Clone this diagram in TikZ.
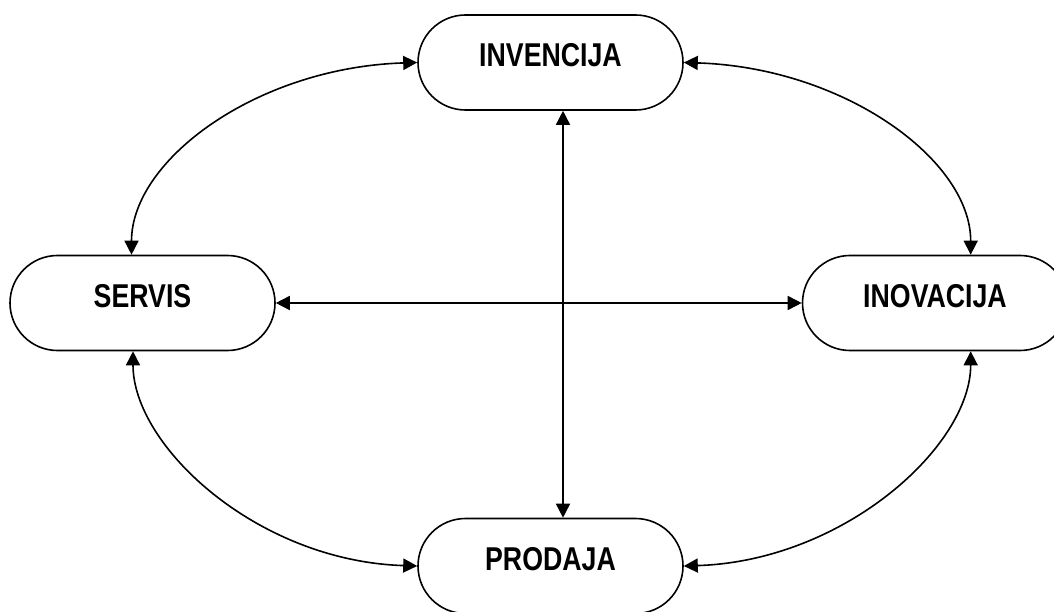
\documentclass[tikz,border=0pt]{standalone}
\usepackage{fontspec}
\setmainfont{Liberation Sans}[FakeStretch=0.81]
\usetikzlibrary{shapes.misc,arrows.meta}
\begin{document}
\begin{tikzpicture}[x=1pt,y=-1pt,
  box/.style={rounded rectangle, draw, line width=1.6pt, fill=white,
    minimum width=265pt, minimum height=95pt, inner sep=0pt,
    font=\fontsize{33}{37}\selectfont\bfseries, text height=23.5pt, text depth=14.5pt},
  link/.style={line width=1.6pt, {Triangle[length=14pt,width=14pt]}-{Triangle[length=14pt,width=14pt]}}]
\useasboundingbox (0,0) rectangle (1054,612);
\clip (0,0) rectangle (1054,612);
\node[box] (inv) at (550.5,62.5) {INVENCIJA};
\node[box] (ser) at (142.5,303) {SERVIS};
\node[box] (ino) at (935,303) {INOVACIJA};
\node[box] (pro) at (550.5,566) {PRODAJA};
\draw[link] ([xshift=12.5pt]inv.south) -- ([xshift=12.5pt]pro.north);
\draw[link] (ser.east) -- (ino.west);
\draw[link] ([xshift=-11pt]ser.north) .. controls +(0,-95) and +(-160,5) .. (inv.west);
\draw[link] (inv.east) .. controls +(160,5) and +(0,-95) .. ([xshift=35.7pt]ino.north);
\draw[link] ([xshift=-9.5pt]ser.south) .. controls +(0,95) and +(-160,-5) .. (pro.west);
\draw[link] ([xshift=35.7pt]ino.south) .. controls +(0,95) and +(160,-5) .. (pro.east);
\end{tikzpicture}
\end{document}
